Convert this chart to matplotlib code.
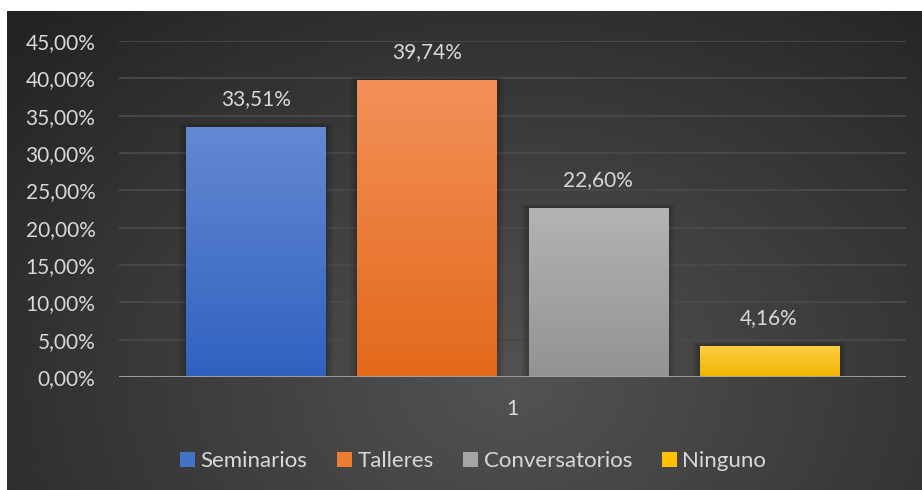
import numpy as np
import matplotlib
matplotlib.use("Agg")
import matplotlib.pyplot as plt
from matplotlib.patches import Rectangle
from matplotlib.ticker import FuncFormatter
import matplotlib.colors as mcolors

# Data
categories = ["Seminarios", "Talleres", "Conversatorios", "Ninguno"]
values = [33.51, 39.74, 22.60, 4.16]
group_label = "1"
y_ticks = [0, 5, 10, 15, 20, 25, 30, 35, 40, 45]

# Gradient colours per series (top, bottom)
grad_colors = [("#6489d2", "#2f62c0"),
               ("#f39159", "#e3691a"),
               ("#b3b3b3", "#939393"),
               ("#ffcf45", "#f0b400")]
solid_colors = ["#4472c4", "#ed7d31", "#a5a5a5", "#ffc000"]

text_color = "#d9d9d9"
font = "Lato"

W, H = 922, 490
fig = plt.figure(figsize=(W / 100, H / 100), dpi=100)
fig.patch.set_facecolor("white")

# Chart area background with radial shading
bg = fig.add_axes([7 / W, 0, (W - 7) / W, (H - 11) / H])
bg.set_axis_off()
ny, nx = 240, 460
yy, xx = np.mgrid[0:ny, 0:nx]
cx, cy = nx * 0.55, ny * 0.22
r = np.sqrt(((xx - cx) / nx) ** 2 + ((yy - cy) / ny * 0.7) ** 2)
r = np.clip(r / 0.75, 0, 1)
c_in = np.array(mcolors.to_rgb("#535353"))
c_out = np.array(mcolors.to_rgb("#232323"))
img = c_in[None, None, :] * (1 - r[..., None]) + c_out[None, None, :] * r[..., None]
bg.imshow(img, origin="lower", aspect="auto", extent=[0, 1, 0, 1], interpolation="bilinear")
bg.set_xlim(0, 1)
bg.set_ylim(0, 1)

# Main plot area
left, right = 119 / W, 906 / W
bottom, top = (H - 377) / H, (H - 41) / H
ax = fig.add_axes([left, bottom, right - left, top - bottom])
ax.patch.set_alpha(0)

spacing = 1.0
width = 139 / 171
n = len(categories)
xpos = (np.arange(n) - (n - 1) / 2) * spacing

for y in y_ticks[1:]:
    ax.axhline(y, color="#4a4a4a", lw=1.3, zorder=0.5)
ax.axhline(0, color="#a6a6a6", lw=2.0, zorder=4)

bars = ax.bar(xpos, values, width=width, color=solid_colors, zorder=3)

for b, (ctop, cbot) in zip(bars, grad_colors):
    x0, y0 = b.get_x(), b.get_y()
    w, h = b.get_width(), b.get_height()
    # soft shadow
    for k in range(1, 7):
        d = 0.012 * k
        ax.add_patch(Rectangle((x0 - d * 0.6, y0), w + 2 * d * 0.6, h + d * 7,
                               facecolor="black", alpha=0.04, lw=0, zorder=2))
    t = np.linspace(0, 1, 100)[:, None]
    ct, cb = np.array(mcolors.to_rgb(ctop)), np.array(mcolors.to_rgb(cbot))
    grad = cb[None, None, :] * (1 - t[..., None]) + ct[None, None, :] * t[..., None]
    grad = np.repeat(grad, 2, axis=1)
    im = ax.imshow(grad, origin="lower", aspect="auto",
                   extent=[x0, x0 + w, y0, y0 + h], zorder=3.5, interpolation="bilinear")
    im.set_clip_path(b)

ax.set_xlim(-2.301, 2.301)
ax.set_ylim(0, 45)

for xp, v in zip(xpos, values):
    ax.annotate(f"{v:.2f}%".replace(".", ","), (xp, v), xytext=(0, 13),
                textcoords="offset points", ha="center", va="bottom",
                color=text_color, fontsize=15, family=font, zorder=5)

ax.set_yticks(y_ticks)
ax.yaxis.set_major_formatter(FuncFormatter(lambda v, p: f"{v:.2f}%".replace(".", ",")))
ax.tick_params(axis="y", length=0, pad=17, labelsize=15, labelcolor=text_color)
for lab in ax.get_yticklabels():
    lab.set_family(font)
ax.set_xticks([0])
ax.set_xticklabels([group_label], family=font, fontsize=15, color=text_color)
ax.tick_params(axis="x", length=0, pad=16)
for s in ax.spines.values():
    s.set_visible(False)

handles = [Rectangle((0, 0), 1, 1, facecolor=c) for c in solid_colors]
leg = fig.legend(handles, categories, loc="center", bbox_to_anchor=(473 / W, 1 - 461 / H),
                 ncol=4, frameon=False, prop={"family": font, "size": 16},
                 handlelength=0.66, handleheight=0.66, handletextpad=0.25,
                 columnspacing=1.35, labelcolor=text_color, borderpad=0, borderaxespad=0)

fig.savefig("out.png", dpi=100, facecolor=fig.get_facecolor())
